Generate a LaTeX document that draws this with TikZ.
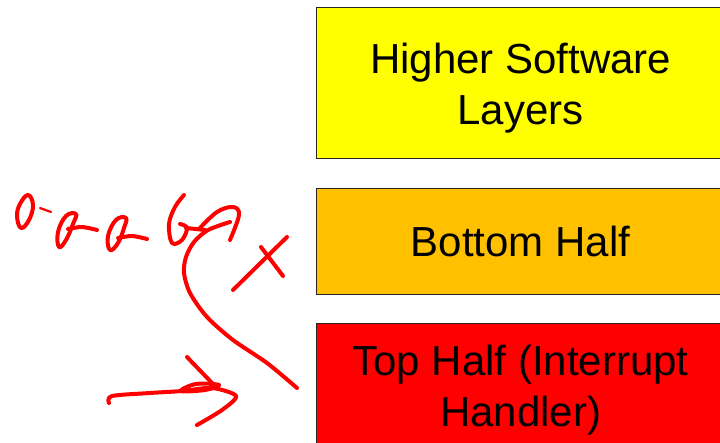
\documentclass[tikz,border=0pt]{standalone}
\usepackage{fontspec}
\setmainfont{Liberation Sans}
\definecolor{layeryellow}{RGB}{255,255,0}
\definecolor{layerorange}{RGB}{255,192,0}
\definecolor{layerred}{RGB}{255,0,0}

\begin{document}
\begin{tikzpicture}[x=1pt,y=-1pt,
    layer/.style={draw=black!85,line width=1.2pt,inner sep=0pt,anchor=north west,
      minimum width=408pt,align=center,font=\fontsize{42}{51}\selectfont},
    ink/.style={layerred,line width=4pt,line cap=round,line join=round}]
  \useasboundingbox (0,0) rectangle (720,443);
  \node[layer,fill=layeryellow,minimum height=151pt] (higher) at (316,7) {\rule{0pt}{40pt}Higher Software\\Layers};
  \node[layer,fill=layerorange,minimum height=106pt] (bottom) at (316,188) {Bottom Half};
  \node[layer,fill=layerred,minimum height=124pt] (top) at (316,323) {\rule{0pt}{40pt}Top Half (Interrupt\\Handler)};
  % scribbles
  \draw[ink] plot[smooth cycle,tension=0.7] coordinates {(28,195) (20,204) (17,216) (21,228) (29,220) (33,205)};
  \draw[ink,line width=2.2pt] (40,208) -- (51,212);
  \draw[ink] plot[smooth cycle,tension=0.7] coordinates {(76,214) (66,216) (58,232) (59,247) (66,240) (73,224)};
  \draw[ink] plot[smooth] coordinates {(68,229) (82,227) (97,230)};
  \draw[ink] plot[smooth cycle,tension=0.7] coordinates {(126,218) (116,220) (108,236) (110,250) (118,243) (124,228)};
  \draw[ink] plot[smooth] coordinates {(118,238) (132,236) (147,239)};
  \draw[ink] plot[smooth,tension=0.6] coordinates {(184,195) (175,207) (169,224) (172,243) (182,240) (187,228) (180,224)};
  \draw[ink] (186,228) -- (205,230);
  % curved arrow
  \draw[ink] plot[smooth] coordinates {(297,388) (267,363) (233,340) (207,317) (190,293) (184,273) (186,257) (194,242) (208,230) (230,222)};
  \draw[ink] plot[smooth,tension=0.6] coordinates {(199,229) (217,212) (233,207) (239,215) (230,240)};
  % cross
  \draw[ink] (233,290) -- (287,237);
  \draw[ink] (261,247) -- (283,276);
  % straight arrow
  \draw[ink] plot[smooth] coordinates {(109,403) (112,396) (150,393) (182,391) (212,388) (236,396) (222,410) (197,425)};
  \draw[ink] plot[smooth cycle,tension=0.6] coordinates {(181,391) (196,384) (219,385) (205,390)};
  \draw[ink] (187,357) -- (213,384);
\end{tikzpicture}
\end{document}
